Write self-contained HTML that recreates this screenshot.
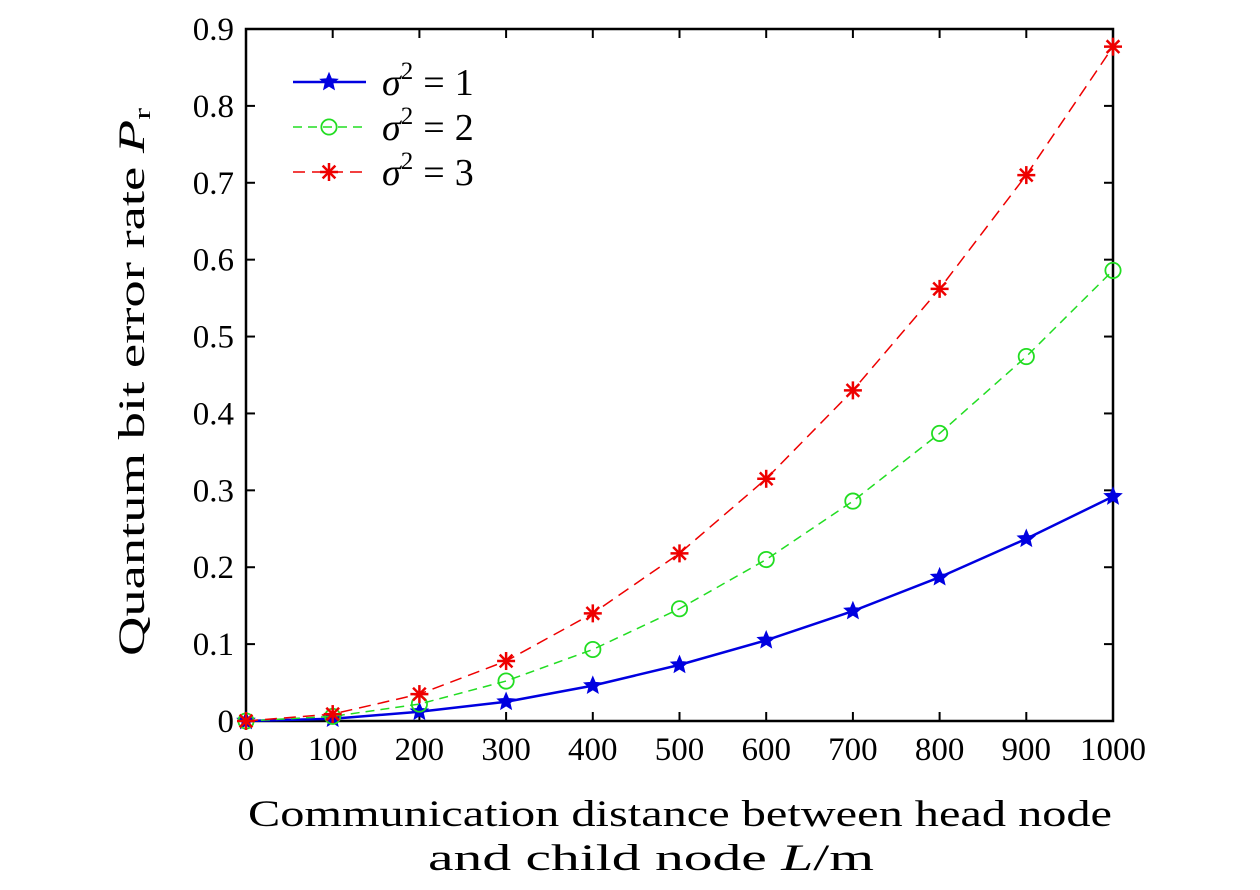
<!DOCTYPE html>
<html><head><meta charset="utf-8"><style>
body{margin:0;background:#fff;}
svg text{font-family:"Liberation Serif",serif;fill:#000;}
</style></head><body>
<svg id="chart" width="1260" height="890" viewBox="0 0 1260 890" xmlns="http://www.w3.org/2000/svg" style="position:absolute;left:0;top:0">
<g id="plot"></g>
</svg>
<script>
const xCats=[0,100,200,300,400,500,600,700,800,900,1000];
const s1=[0,0.003,0.012,0.025,0.046,0.073,0.105,0.143,0.187,0.237,0.292];
const s2=[0,0.006,0.022,0.052,0.093,0.146,0.210,0.286,0.374,0.474,0.586];
const s3=[0,0.009,0.035,0.078,0.140,0.218,0.315,0.430,0.562,0.710,0.877];
const yTicks=[0,0.1,0.2,0.3,0.4,0.5,0.6,0.7,0.8,0.9];
const xTicks=[0,100,200,300,400,500,600,700,800,900,1000];
const X0=246,X1=1113,Y0=721,Y1=29;
const xs=v=>X0+(v/1000)*(X1-X0);
const ys=v=>Y0-(v/0.9)*(Y0-Y1);
const NS='http://www.w3.org/2000/svg';
const g=document.getElementById('plot');
function mk(t,a,p){const e=document.createElementNS(NS,t);for(const k in a)e.setAttribute(k,a[k]);(p||g).appendChild(e);return e;}
let fr=mk('rect',{x:X0,y:Y1,width:X1-X0,height:Y0-Y1,fill:'none',stroke:'#000','stroke-width':2.5});


yTicks.forEach(v=>{
 const y=ys(v);
 mk('line',{x1:X0,x2:X0+9,y1:y,y2:y,stroke:'#000','stroke-width':2});
 mk('line',{x1:X1,x2:X1-9,y1:y,y2:y,stroke:'#000','stroke-width':2});
 const t=mk('text',{x:X0-12,y:y+11,'text-anchor':'end','font-size':33});
 t.textContent=v===0?'0':v.toFixed(1);
 
 
});
xTicks.forEach(v=>{
 const x=xs(v);
 mk('line',{x1:x,x2:x,y1:Y0,y2:Y0-9,stroke:'#000','stroke-width':2});
 mk('line',{x1:x,x2:x,y1:Y1,y2:Y1+9,stroke:'#000','stroke-width':2});
 const t=mk('text',{x:x,y:760,'text-anchor':'middle','font-size':33});
 t.textContent=v;
 
 
});
function star(cx,cy,r,col,p){let d='';for(let i=0;i<10;i++){const a=-Math.PI/2+i*Math.PI/5;const rr=i%2?r*0.45:r;d+=(i?'L':'M')+(cx+rr*Math.cos(a))+','+(cy+rr*Math.sin(a));}mk('path',{d:d+'Z',fill:col,stroke:col,'stroke-width':1},p);}
function ast(cx,cy,r,col,p){for(let i=0;i<4;i++){const a=i*Math.PI/4;mk('line',{x1:cx-r*Math.cos(a),y1:cy-r*Math.sin(a),x2:cx+r*Math.cos(a),y2:cy+r*Math.sin(a),stroke:col,'stroke-width':2.5},p);}}
function circ(cx,cy,r,col,p){mk('circle',{cx:cx,cy:cy,r:r*0.85,fill:'none',stroke:col,'stroke-width':1.8},p);}
function series(vals,col,dash,w,marker,name){
 const sg=mk('g',{});
 
 
 const pts=vals.map((v,i)=>xs(xCats[i])+','+ys(v)).join(' ');
 mk('polyline',{points:pts,fill:'none',stroke:col,'stroke-width':w,'stroke-dasharray':dash},sg);
 vals.forEach((v,i)=>marker(xs(xCats[i]),ys(v),9,col,sg));
}
series(s1,'#0000e0','none',2.5,star,'series-sigma1');
series(s2,'#22dd22','9 6',1.5,circ,'series-sigma2');
series(s3,'#ee0000','12 7',1.5,ast,'series-sigma3');
const lg=mk('g',{});


const L=[['#0000e0','none',2.5,star,'1'],['#22dd22','9 6',1.5,circ,'2'],['#ee0000','12 7',1.5,ast,'3']];
L.forEach((l,i)=>{
 const y=82+i*45;
 const e=mk('g',{},lg);
 
 
 mk('line',{x1:293,x2:366,y1:y,y2:y,stroke:l[0],'stroke-width':l[2],'stroke-dasharray':l[1]},e);
 l[3](329,y,9,l[0],e);
 const t=mk('text',{x:382,y:y+13,'font-size':38},e);
 t.innerHTML='<tspan font-style="italic">σ</tspan><tspan font-size="25" dy="-16">2</tspan><tspan dy="16" dx="10">=</tspan><tspan dx="10">'+l[4]+'</tspan>';
});
</script>
<svg style="position:absolute;left:0;top:0" width="1260" height="890">
<text x="248" y="826" textLength="864" lengthAdjust="spacingAndGlyphs" font-size="37" font-family="Liberation Serif,serif">Communication distance between head node</text>
<text x="428" y="870" textLength="446" lengthAdjust="spacingAndGlyphs" font-size="37" font-family="Liberation Serif,serif">and child node <tspan font-style="italic">L</tspan>/m</text>
<text transform="translate(144,656) rotate(-90)" textLength="548" lengthAdjust="spacingAndGlyphs" font-size="37" font-family="Liberation Serif,serif">Quantum bit error rate <tspan font-style="italic">P</tspan><tspan font-size="24" dy="6">r</tspan></text>
</svg>
</body></html>
